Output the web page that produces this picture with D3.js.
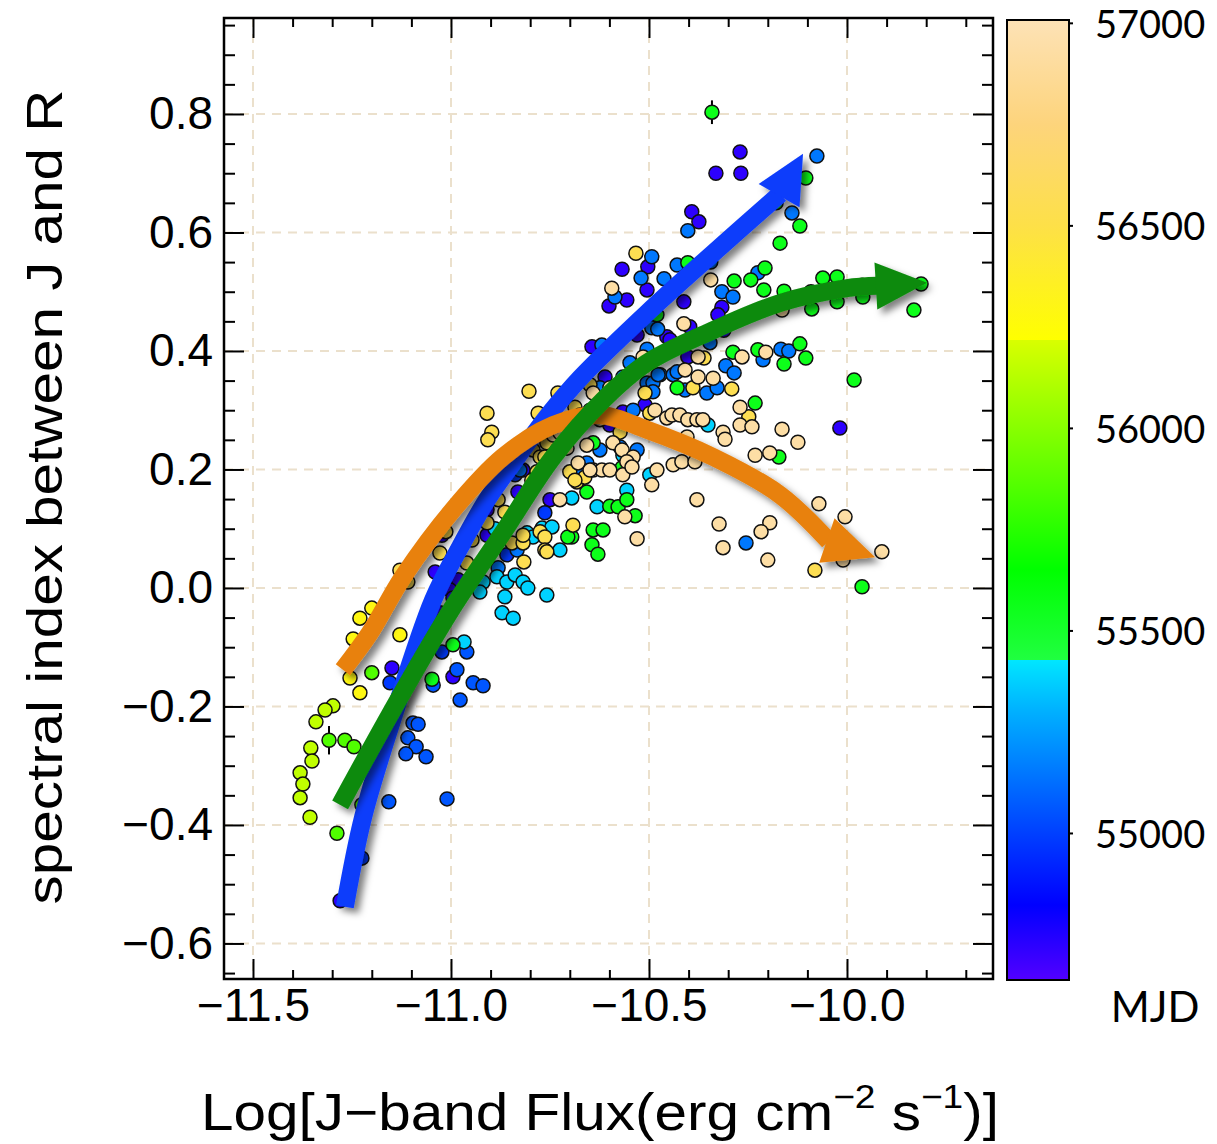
<!DOCTYPE html>
<html><head><meta charset="utf-8">
<script src="https://cdn.jsdelivr.net/npm/d3@7"></script>
<style>body{margin:0;background:#fff}</style>
</head><body>
<svg id="chart" width="1217" height="1144"></svg>
<script>
// ---------------- data ----------------
const xTicks = [-11.5, -11.0, -10.5, -10.0];
const yTicks = [-0.6, -0.4, -0.2, 0.0, 0.2, 0.4, 0.6, 0.8];
const xMinor = [-11.4,-11.3,-11.2,-11.1,-10.9,-10.8,-10.7,-10.6,-10.4,-10.3,-10.2,-10.1,-9.9,-9.8,-9.7];
const yMinor = [-0.65,-0.55,-0.5,-0.45,-0.35,-0.3,-0.25,-0.15,-0.1,-0.05,0.05,0.1,0.15,0.25,0.3,0.35,0.45,0.5,0.55,0.65,0.7,0.75,0.85,0.9,0.95];
const xDomain = [-11.5732, -9.6313];
const yDomain = [-0.660, 0.962];
const cbTicks = [55000, 55500, 56000, 56500, 57000];
const cbDomain = [54637, 57007];
const cbStopValues = [54637, 54822, 55000, 55150, 55300, 55426, 55428, 55650, 55850, 56000, 56216, 56218, 56500, 56750, 57007];
const cbStopColors = ["#5200ff","#0000ff","#0040ff","#0078ff","#00b0ff","#00e6ff","#20ff40","#00ff00","#50ff00","#88ff00","#d8ff00","#ffff00","#fde048","#fdd47c","#fde2b6"];
const xTitleParts = ["Log[J\u2212band Flux(erg cm", "\u22122", " s", "\u22121", ")]"];
const yTitle = "spectral index between J and R";
const cbTitle = "MJD";

// [log J flux, spectral index, MJD]
const obs = [
[-11.255,-0.152,56290],[-11.230,-0.177,56290],[-11.200,-0.143,55850],[-11.149,-0.135,54720],[-11.154,-0.160,54980],
[-11.048,-0.154,55560],[-11.045,-0.164,55060],[-10.995,-0.150,54720],[-10.985,-0.138,55060],[-10.944,-0.160,55060],
[-10.919,-0.165,55060],[-10.977,-0.189,55060],[-11.298,-0.199,56150],[-11.318,-0.206,56150],[-11.341,-0.226,56150],
[-11.308,-0.257,55850],[-11.268,-0.257,55850],[-11.245,-0.268,55850],[-11.354,-0.270,56150],[-11.351,-0.292,56150],
[-11.381,-0.312,56150],[-11.374,-0.331,56150],[-11.381,-0.354,56150],[-11.356,-0.387,56150],[-11.288,-0.414,55850],
[-11.225,-0.366,55850],[-11.096,-0.228,55060],[-11.083,-0.230,55060],[-11.109,-0.253,55060],[-11.088,-0.268,55060],
[-11.114,-0.280,55060],[-11.063,-0.285,55060],[-11.157,-0.361,55060],[-11.010,-0.356,55060],[-11.225,-0.456,54980],
[-11.280,-0.528,54720],[-11.247,-0.086,56290],[-11.230,-0.051,56290],[-11.200,-0.034,56290],[-11.129,-0.079,56290],
[-11.129,0.030,56550],[-11.109,0.010,56550],[-11.023,-0.108,54980],[-10.995,-0.096,55560],[-10.967,-0.091,55380],
[-10.960,-0.108,55060],[-11.028,-0.042,54720],[-11.040,-0.066,54720],[-10.982,0.014,54720],[-11.003,-0.003,54720],
[-10.995,-0.017,54720],[-11.040,0.027,54720],[-11.028,0.059,56550],[-11.023,0.089,54720],[-11.013,0.095,56550],
[-10.960,0.042,56550],[-10.947,0.081,56550],[-10.909,0.110,56550],[-10.889,0.100,55380],[-10.909,0.089,54720],
[-10.881,0.149,56550],[-10.864,0.128,56550],[-10.972,0.149,54720],[-10.909,0.132,54720],[-10.838,0.191,54980],
[-10.818,0.199,54720],[-10.831,0.162,54720],[-10.796,0.182,56550],[-10.783,0.196,56550],[-10.859,0.056,54980],
[-10.881,0.034,55150],[-10.884,0.019,55380],[-10.859,0.010,55380],[-10.838,0.022,55380],[-10.818,0.010,55380],
[-10.806,0.000,55380],[-10.919,0.010,55380],[-10.927,-0.007,55380],[-10.864,-0.015,55380],[-10.758,-0.012,55380],
[-10.871,-0.042,55380],[-10.843,-0.051,55380],[-10.816,0.044,56550],[-10.846,0.076,56550],[-10.818,0.076,56550],
[-10.818,0.089,56550],[-10.808,0.093,55380],[-10.793,0.086,55380],[-10.770,0.101,55380],[-10.745,0.103,55380],
[-10.775,0.095,56550],[-10.763,0.086,56550],[-10.763,0.064,56550],[-10.725,0.064,55380],[-10.763,0.127,54980],
[-10.750,0.149,54720],[-10.725,0.149,56930],[-10.695,0.152,55380],[-10.657,0.162,55560],[-10.631,0.137,55380],
[-10.692,0.106,56550],[-10.695,0.086,55560],[-10.641,0.098,55560],[-10.616,0.098,55560],[-10.644,0.073,55560],
[-10.629,0.057,55560],[-10.599,0.138,55560],[-10.578,0.137,55560],[-10.556,0.149,55560],[-10.700,0.196,56550],
[-10.682,0.179,56550],[-10.657,0.211,55150],[-10.641,0.199,56930],[-10.679,0.211,56930],[-10.619,0.199,56930],
[-10.599,0.199,56930],[-10.793,0.233,56550],[-10.775,0.221,56550],[-10.758,0.245,56550],[-10.742,0.258,56930],
[-10.732,0.233,56550],[-10.707,0.236,56930],[-10.641,0.245,55560],[-10.657,0.241,56930],[-10.591,0.245,56930],
[-10.909,0.295,56550],[-10.897,0.263,56550],[-10.907,0.250,56550],[-10.775,0.292,56550],[-10.803,0.332,56550],
[-10.730,0.329,56550],[-10.780,0.295,56550],[-10.725,0.262,56930],[-10.763,0.221,56550],[-10.826,0.199,55150],
[-10.833,0.064,55150],[-10.758,0.061,56550],[-10.705,0.086,55560],[-10.687,0.305,56550],[-10.674,0.292,56930],
[-10.649,0.300,56550],[-10.624,0.284,56930],[-10.599,0.275,54720],[-10.573,0.263,56550],[-10.566,0.297,54720],
[-10.540,0.300,55150],[-10.510,0.309,54720],[-10.498,0.295,56550],[-10.485,0.300,56930],[-10.455,0.287,56930],
[-10.442,0.292,56930],[-10.422,0.292,56930],[-10.402,0.284,56930],[-10.379,0.284,56930],[-10.364,0.284,56930],
[-10.351,0.275,55380],[-10.404,0.255,56930],[-10.624,0.233,55150],[-10.573,0.238,55150],[-10.566,0.224,55380],
[-10.568,0.233,56930],[-10.530,0.233,55150],[-10.540,0.221,56930],[-10.556,0.213,56930],[-10.568,0.203,55560],
[-10.566,0.191,56930],[-10.543,0.204,56930],[-10.669,0.199,55150],[-10.649,0.199,56930],[-10.662,0.187,56550],
[-10.687,0.182,56550],[-10.480,0.199,56930],[-10.498,0.191,55380],[-10.493,0.174,56930],[-10.439,0.208,56930],
[-10.417,0.213,56930],[-10.384,0.213,56930],[-10.556,0.165,55380],[-10.561,0.120,56930],[-10.535,0.122,55560],
[-10.379,0.149,56930],[-10.530,0.083,56930],[-10.323,0.108,56930],[-10.313,0.068,56930],[-10.270,0.305,56930],
[-10.232,0.312,55560],[-10.248,0.289,56550],[-10.270,0.275,56930],[-10.240,0.272,56930],[-10.164,0.268,56930],
[-10.124,0.246,56930],[-10.018,0.270,54720],[-10.313,0.263,56930],[-10.308,0.251,56930],[-10.232,0.224,56930],
[-10.195,0.228,56930],[-10.172,0.221,55560],[-10.071,0.142,56930],[-10.195,0.110,56930],[-10.217,0.095,56930],
[-10.255,0.076,55150],[-10.200,0.047,56930],[-10.005,0.120,56930],[-9.912,0.061,56930],[-10.081,0.030,56550],
[-9.962,0.002,55560],[-10.010,0.047,56930],[-10.341,0.803,55560],[-10.270,0.736,54720],[-10.331,0.700,54720],
[-10.268,0.700,54720],[-10.076,0.729,55150],[-10.104,0.692,55560],[-10.179,0.650,55560],[-10.139,0.633,55150],
[-10.119,0.611,55560],[-10.169,0.582,55560],[-10.392,0.635,54720],[-10.374,0.618,54720],[-10.402,0.603,55150],
[-10.533,0.565,56550],[-10.493,0.559,55150],[-10.503,0.542,54720],[-10.568,0.538,54720],[-10.520,0.523,55150],
[-10.505,0.503,54720],[-10.594,0.506,56930],[-10.586,0.491,55150],[-10.556,0.486,54720],[-10.601,0.476,54720],
[-10.462,0.522,55150],[-10.429,0.545,55150],[-10.402,0.549,55560],[-10.344,0.550,55150],[-10.344,0.520,56930],
[-10.285,0.518,55560],[-10.243,0.520,55560],[-10.225,0.532,55150],[-10.207,0.540,55560],[-10.210,0.503,55560],
[-10.316,0.500,55150],[-10.288,0.491,55150],[-10.159,0.501,55560],[-10.061,0.523,55560],[-10.025,0.525,55560],
[-10.091,0.500,55560],[-10.089,0.471,55560],[-10.025,0.483,55560],[-9.962,0.511,55560],[-9.960,0.491,55560],
[-9.813,0.513,55560],[-9.831,0.469,55560],[-10.412,0.483,54720],[-10.316,0.474,54720],[-10.326,0.461,54720],
[-10.412,0.446,56930],[-10.397,0.441,54720],[-10.164,0.469,56930],[-10.311,0.435,54720],[-10.644,0.407,54720],
[-10.619,0.410,55150],[-10.548,0.380,55150],[-10.505,0.403,55150],[-10.515,0.390,56930],[-10.288,0.398,55560],
[-10.265,0.390,56930],[-10.225,0.402,55560],[-10.205,0.398,56930],[-10.212,0.385,55150],[-10.167,0.403,55150],
[-10.147,0.400,55150],[-10.119,0.412,55560],[-10.104,0.388,55560],[-10.159,0.378,55560],[-10.306,0.375,55150],
[-10.285,0.363,55150],[-10.376,0.390,56930],[-10.361,0.388,56550],[-10.346,0.414,55150],[-10.429,0.338,55560],
[-10.389,0.338,56550],[-10.409,0.334,55150],[-10.354,0.329,55150],[-10.328,0.338,55150],[-10.291,0.336,56550],
[-9.982,0.351,55560],[-10.472,0.360,55150],[-10.376,0.356,56930],[-10.338,0.354,56930],[-10.480,0.461,55560],
[-10.493,0.439,55150],[-10.478,0.437,55150],[-10.455,0.424,54720],[-10.447,0.419,54720],[-10.530,0.427,54720],
[-10.611,0.356,54720],[-10.566,0.356,55150],[-10.505,0.346,55150],[-10.490,0.346,55150],[-10.477,0.360,55150],
[-10.649,0.343,56550],[-10.641,0.329,56930],[-10.624,0.338,55150],[-10.599,0.338,56930],[-10.510,0.329,56550],
[-10.490,0.331,55150],[-10.439,0.360,55150],[-10.429,0.365,55150],[-10.409,0.368,56930],[-10.402,0.390,54720]
];
// [log J flux, spectral index, error]
const errBars = [[-10.341,0.803,0.020],[-11.308,-0.257,0.024]];

// trend arrows: shaft points ..., head base, tip  (data units)
const blueArrow = [[-11.268,-0.538],[-11.222,-0.387],[-11.146,-0.218],[-11.045,-0.020],[-10.977,0.069],[-10.909,0.149],
  [-10.833,0.221],[-10.750,0.295],[-10.674,0.354],[-10.505,0.464],[-10.338,0.565],[-10.169,0.665],[-10.111,0.733]];
const orangeArrow = [[-11.273,-0.138],[-11.205,-0.076],[-11.121,0.019],[-10.995,0.132],[-10.869,0.221],[-10.742,0.275],
  [-10.624,0.292],[-10.505,0.267],[-10.338,0.221],[-10.169,0.157],[-10.046,0.079],[-9.929,0.052]];
const greenArrow = [[-11.280,-0.366],[-11.129,-0.184],[-10.995,-0.032],[-10.869,0.093],[-10.742,0.221],[-10.616,0.317],
  [-10.505,0.380],[-10.338,0.435],[-10.169,0.481],[-10.000,0.506],[-9.922,0.510],[-9.798,0.515]];
const arrows = [
  {pts: blueArrow, color: "#0a3cfb"},
  {pts: orangeArrow, color: "#e8810b"},
  {pts: greenArrow, color: "#0b8a0b"}
];

// ---------------- layout ----------------
const P = {left: 224, right: 993, top: 18, bottom: 979};
const CB = {x: 1007, w: 62, top: 20, bottom: 980};
const tickFont = "'Liberation Sans', Arial, Helvetica, sans-serif";

const svg = d3.select("#chart");
const x = d3.scaleLinear().domain(xDomain).range([P.left, P.right]);
const y = d3.scaleLinear().domain(yDomain).range([P.bottom, P.top]);
const color = d3.scaleLinear().domain(cbStopValues).range(cbStopColors).clamp(true);
const cbScale = d3.scaleLinear().domain(cbDomain).range([CB.bottom, CB.top]);

const defs = svg.append("defs");
const f = defs.append("filter").attr("id","shadow").attr("x","-20%").attr("y","-20%").attr("width","140%").attr("height","140%");
f.append("feDropShadow").attr("dx",5).attr("dy",5).attr("stdDeviation",3.5).attr("flood-color","#000").attr("flood-opacity",0.5);
const clip = defs.append("clipPath").attr("id","plotclip");
clip.append("rect").attr("x",P.left).attr("y",P.top).attr("width",P.right-P.left).attr("height",P.bottom-P.top);

// grid
const grid = svg.append("g").attr("stroke","#ebe0cc").attr("stroke-width",2).attr("stroke-dasharray","9,7");
grid.selectAll("line.gx").data(xTicks).join("line").attr("class","gx")
  .attr("x1",d=>x(d)).attr("x2",d=>x(d)).attr("y1",P.top).attr("y2",P.bottom);
grid.selectAll("line.gy").data(yTicks).join("line").attr("class","gy")
  .attr("x1",P.left).attr("x2",P.right).attr("y1",d=>y(d)).attr("y2",d=>y(d));

// points
const plot = svg.append("g").attr("clip-path","url(#plotclip)");
plot.append("g").attr("stroke","#000").attr("stroke-width",2)
  .selectAll("line").data(errBars).join("line")
  .attr("x1",d=>x(d[0])).attr("x2",d=>x(d[0])).attr("y1",d=>y(d[1]-d[2])).attr("y2",d=>y(d[1]+d[2]));
const sorted = obs.slice().sort((a,b)=>a[2]-b[2]);
plot.append("g").selectAll("circle").data(sorted).join("circle")
  .attr("cx",d=>x(d[0])).attr("cy",d=>y(d[1])).attr("r",7)
  .attr("fill",d=>color(d[2])).attr("stroke","#111").attr("stroke-width",1.5);

// arrows
const line = d3.line().x(d=>x(d[0])).y(d=>y(d[1])).curve(d3.curveCatmullRom.alpha(0.5));
const headLen = 47, headHalf = 23.5;
arrows.forEach(a => {
  const g = plot.append("g").attr("filter","url(#shadow)");
  const shaft = a.pts.slice(0, -1);
  g.append("path").attr("d", line(shaft)).attr("fill","none").attr("stroke",a.color)
    .attr("stroke-width",18).attr("stroke-linecap","butt").attr("stroke-linejoin","round");
  const b = a.pts[a.pts.length-2], t = a.pts[a.pts.length-1];
  const bx = x(b[0]), by = y(b[1]), tx = x(t[0]), ty = y(t[1]);
  const L = Math.hypot(tx-bx, ty-by), ux = (tx-bx)/L, uy = (ty-by)/L;
  const px = -uy, py = ux;
  const bx2 = bx - ux*2, by2 = by - uy*2;
  g.append("path").attr("fill",a.color)
    .attr("d", `M${bx2+px*headHalf},${by2+py*headHalf}L${tx},${ty}L${bx2-px*headHalf},${by2-py*headHalf}Z`);
});

// axes
function styleAxis(g){ g.select(".domain").remove(); g.selectAll(".tick line").attr("stroke","#000").attr("stroke-width",2);
  g.selectAll(".tick text").attr("font-family",tickFont).attr("font-size",46).attr("fill","#000"); }
const fmt = d3.format(".1f");
svg.append("g").attr("transform",`translate(${P.left},0)`).call(d3.axisLeft(y).tickValues(yTicks).tickSize(-20).tickPadding(11).tickFormat(fmt)).call(styleAxis);
svg.append("g").attr("transform",`translate(${P.left},0)`).call(d3.axisLeft(y).tickValues(yMinor).tickSize(-11).tickFormat("")).call(styleAxis);
svg.append("g").attr("transform",`translate(${P.right},0)`).call(d3.axisRight(y).tickValues(yTicks).tickSize(-20).tickFormat("")).call(styleAxis);
svg.append("g").attr("transform",`translate(${P.right},0)`).call(d3.axisRight(y).tickValues(yMinor).tickSize(-11).tickFormat("")).call(styleAxis);
svg.append("g").attr("transform",`translate(0,${P.bottom})`).call(d3.axisBottom(x).tickValues(xTicks).tickSize(-20).tickPadding(9).tickFormat(fmt)).call(styleAxis);
svg.append("g").attr("transform",`translate(0,${P.bottom})`).call(d3.axisBottom(x).tickValues(xMinor).tickSize(-9).tickFormat("")).call(styleAxis);
svg.append("g").attr("transform",`translate(0,${P.top})`).call(d3.axisTop(x).tickValues(xTicks).tickSize(-20).tickFormat("")).call(styleAxis);
svg.append("g").attr("transform",`translate(0,${P.top})`).call(d3.axisTop(x).tickValues(xMinor).tickSize(-9).tickFormat("")).call(styleAxis);

svg.append("rect").attr("x",P.left).attr("y",P.top).attr("width",P.right-P.left).attr("height",P.bottom-P.top)
  .attr("fill","none").attr("stroke","#000").attr("stroke-width",2.5);

// titles
const yt = svg.append("text").attr("transform","translate(62,497) rotate(-90)")
  .attr("text-anchor","middle").attr("font-family",tickFont).attr("font-size",50).attr("fill","#000").text(yTitle);
const ytw = yt.node().getComputedTextLength();
yt.attr("transform",`translate(62,497) rotate(-90) scale(${815/ytw},1)`);

const xt = svg.append("text").attr("text-anchor","middle").attr("font-family",tickFont).attr("font-size",52).attr("fill","#000");
const supShift = 22;
xt.append("tspan").text(xTitleParts[0]);
xt.append("tspan").attr("dy",-supShift).attr("font-size",33).text(xTitleParts[1]);
xt.append("tspan").attr("dy",supShift).text(xTitleParts[2]);
xt.append("tspan").attr("dy",-supShift).attr("font-size",33).text(xTitleParts[3]);
xt.append("tspan").attr("dy",supShift).text(xTitleParts[4]);
const xtw = xt.node().getComputedTextLength();
xt.attr("transform",`translate(600,1130) scale(${798/xtw},1)`);

// colorbar
const grad = defs.append("linearGradient").attr("id","cbgrad").attr("x1",0).attr("y1",1).attr("x2",0).attr("y2",0);
cbStopValues.forEach((v,i)=>grad.append("stop")
  .attr("offset",(v-cbDomain[0])/(cbDomain[1]-cbDomain[0])).attr("stop-color",cbStopColors[i]));
svg.append("rect").attr("x",CB.x).attr("y",CB.top).attr("width",CB.w).attr("height",CB.bottom-CB.top)
  .attr("fill","url(#cbgrad)").attr("stroke","#000").attr("stroke-width",2);
const cbAxis = svg.append("g").attr("transform",`translate(${CB.x+CB.w},0)`)
  .call(d3.axisRight(cbScale).tickValues(cbTicks).tickSize(4).tickPadding(22).tickFormat(d3.format("d")));
cbAxis.select(".domain").remove();
cbAxis.selectAll(".tick line").attr("stroke","#000").attr("stroke-width",2);
cbAxis.selectAll(".tick text").attr("font-family","Lato, 'Open Sans', sans-serif").attr("font-size",38).attr("fill","#000").attr("dy","0.38em");
svg.append("text").attr("x",1155).attr("y",1022).attr("text-anchor","middle")
  .attr("font-family","Lato, 'Open Sans', sans-serif").attr("font-size",42).attr("fill","#000").text(cbTitle);
</script>
</body></html>
